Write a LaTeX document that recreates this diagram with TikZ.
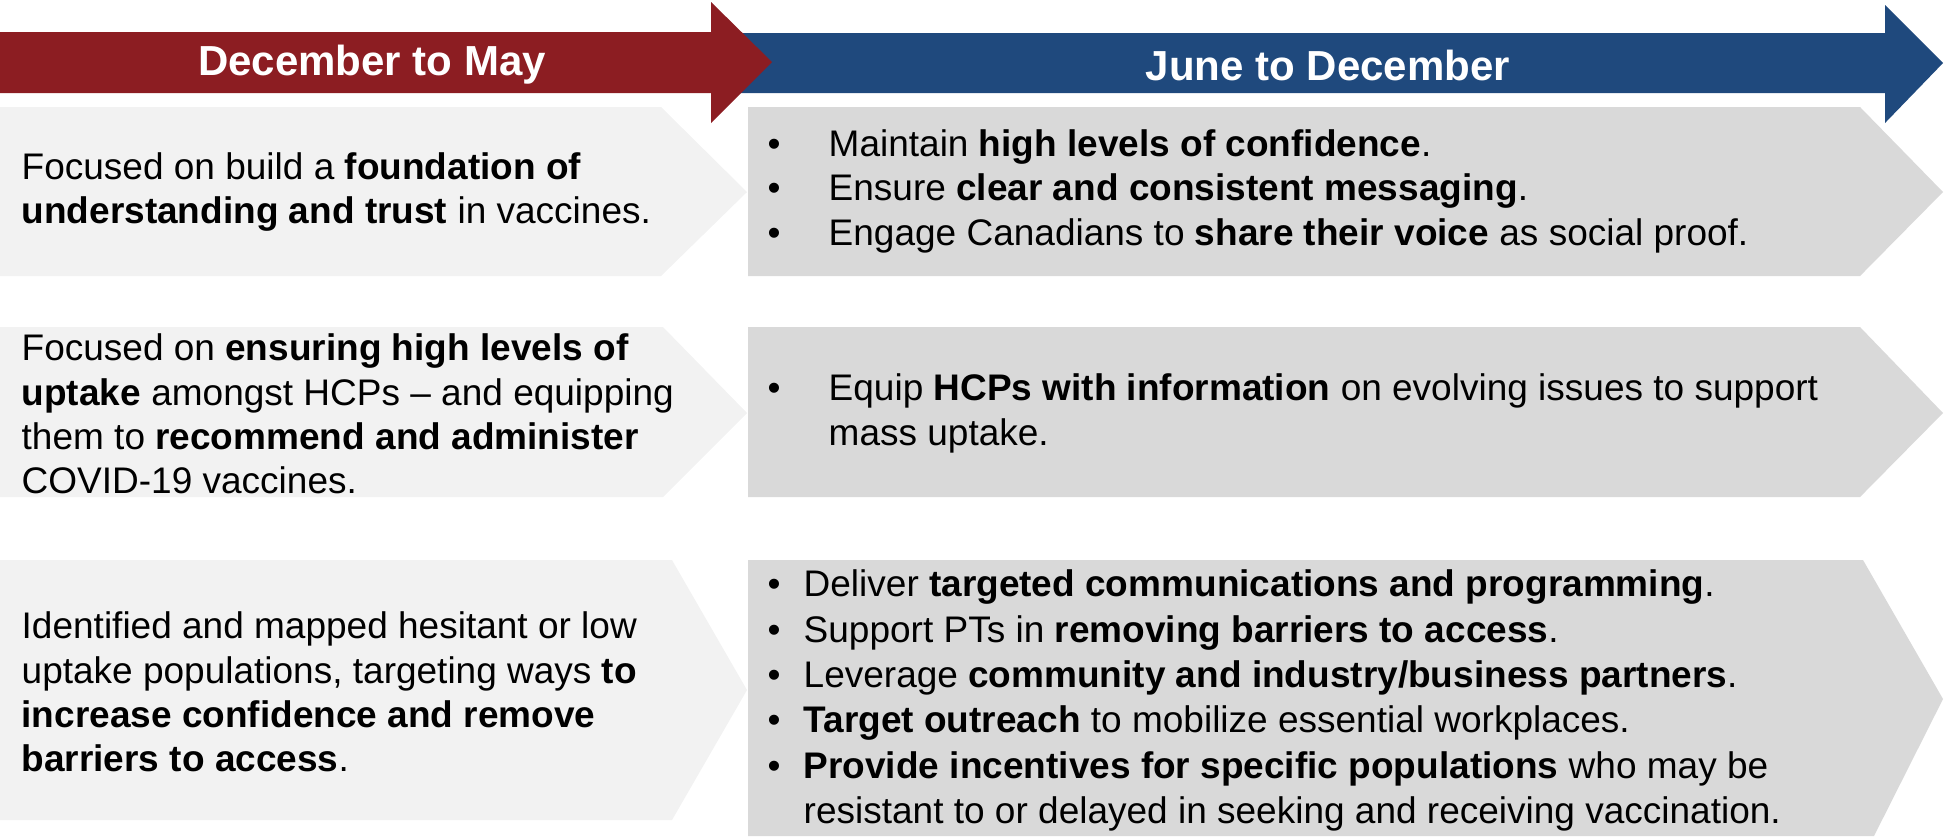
\documentclass[tikz,border=0pt]{standalone}
\usepackage{fontspec}
\setmainfont{Liberation Sans}

\definecolor{bandred}{RGB}{140,29,34}
\definecolor{bandblue}{RGB}{31,73,125}
\definecolor{paneleft}{HTML}{F2F2F2}
\definecolor{paneright}{HTML}{D9D9D9}

\begin{document}
\begin{tikzpicture}[
    header/.style={text=white, font=\fontsize{11.95}{14}\selectfont\bfseries},
    lefttext/.style={anchor=west, align=left, inner sep=0pt, font=\fontsize{10.53}{12.6}\selectfont},
    righttext/.style={anchor=west, inner sep=0pt, font=\fontsize{10.53}{12.6}\selectfont}
]
    \useasboundingbox (0,0) rectangle (19.44,-8.36);

    % Flechas de cabecera (la azul debajo, la punta roja la tapa)
    \fill[bandblue] (7.40,-0.33) -- (18.85,-0.33) -- (18.85,-0.05) -- (19.43,-0.63)
        -- (18.85,-1.23) -- (18.85,-0.93) -- (7.40,-0.93) -- cycle;
    \fill[bandred] (0,-0.32) -- (7.11,-0.32) -- (7.11,-0.02) -- (7.72,-0.62)
        -- (7.11,-1.23) -- (7.11,-0.93) -- (0,-0.93) -- cycle;
    \node[header] (may) at (3.72,-0.65) {December to May};
    \node[header] (june) at (13.28,-0.65) {June to December};

    % Fila 1
    \fill[paneleft] (0,-1.07) -- (6.61,-1.07) -- (7.47,-1.92) -- (6.61,-2.76) -- (0,-2.76) -- cycle;
    \fill[paneright] (7.48,-1.07) -- (18.60,-1.07) -- (19.43,-1.92) -- (18.60,-2.76) -- (7.48,-2.76) -- cycle;

    % Fila 2
    \fill[paneleft] (0,-3.27) -- (6.63,-3.27) -- (7.47,-4.13) -- (6.63,-4.97) -- (0,-4.97) -- cycle;
    \fill[paneright] (7.48,-3.27) -- (18.60,-3.27) -- (19.43,-4.13) -- (18.60,-4.97) -- (7.48,-4.97) -- cycle;

    % Fila 3 (la de la derecha sigue hasta el borde inferior)
    \fill[paneleft] (0,-5.60) -- (6.72,-5.60) -- (7.47,-6.90) -- (6.72,-8.20) -- (0,-8.20) -- cycle;
    \fill[paneright] (7.48,-5.60) -- (18.63,-5.60) -- (19.43,-6.99) -- (18.74,-8.36) -- (7.48,-8.36) -- cycle;

    % Textos de la izquierda
    \node[lefttext] (trust) at (0.21,-1.92)
        {Focused on build a \textbf{foundation of}\\
         \textbf{understanding and trust} in vaccines.};
    \node[lefttext] (hcps) at (0.21,-4.14)
        {Focused on \textbf{ensuring high levels of}\\
         \textbf{uptake} amongst HCPs – and equipping\\
         them to \textbf{recommend and administer}\\
         COVID-19 vaccines.};
    \node[lefttext] (hesitant) at (0.21,-6.92)
        {Identified and mapped hesitant or low\\
         uptake populations, targeting ways \textbf{to}\\
         \textbf{increase confidence and remove}\\
         \textbf{barriers to access}.};

    % Textos de la derecha (viñetas)
    \node[righttext] (confidence) at (7.67,-1.92)
        {\begin{tabular}{@{}l@{}l@{}}
         \makebox[0.61cm][l]{\textbullet} & Maintain \textbf{high levels of confidence}.\\
         \makebox[0.61cm][l]{\textbullet} & Ensure \textbf{clear and consistent messaging}.\\
         \makebox[0.61cm][l]{\textbullet} & Engage Canadians to \textbf{share their voice} as social proof.
         \end{tabular}};
    \node[righttext] (equip) at (7.67,-4.14)
        {\begin{tabular}{@{}l@{}l@{}}
         \makebox[0.61cm][l]{\textbullet} & Equip \textbf{HCPs with information} on evolving issues to support\\
         & mass uptake.
         \end{tabular}};
    \node[righttext, font=\fontsize{10.53}{12.9}\selectfont] (outreach) at (7.67,-7.01)
        {\begin{tabular}{@{}l@{}l@{}}
         \makebox[0.36cm][l]{\textbullet} & Deliver \textbf{targeted communications and programming}.\\
         \makebox[0.36cm][l]{\textbullet} & Support PTs in \textbf{removing barriers to access}.\\
         \makebox[0.36cm][l]{\textbullet} & Leverage \textbf{community and industry/business partners}.\\
         \makebox[0.36cm][l]{\textbullet} & \textbf{Target outreach} to mobilize essential workplaces.\\
         \makebox[0.36cm][l]{\textbullet} & \textbf{Provide incentives for specific populations} who may be\\
         & resistant to or delayed in seeking and receiving vaccination.
         \end{tabular}};
\end{tikzpicture}
\end{document}
